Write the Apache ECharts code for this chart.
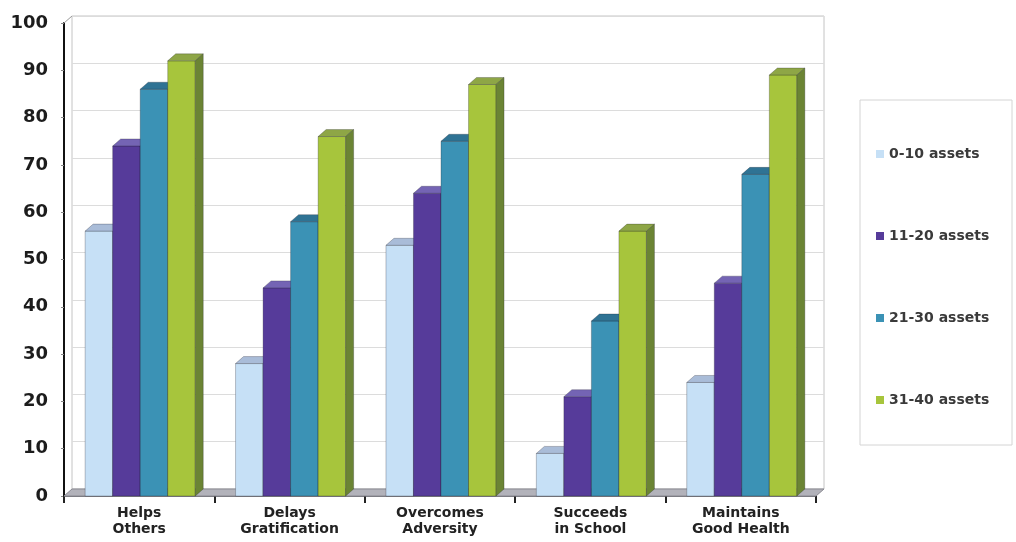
<!DOCTYPE html>
<html>
<head>
    <meta charset="utf-8">
    <title>Assets chart</title>
    <script src="https://cdn.jsdelivr.net/npm/echarts@6/dist/echarts.min.js"></script>
    <style>
        html, body { margin: 0; padding: 0; background: #fff; }
    </style>
</head>
<body>
    <div id="main" style="width:1016px;height:542px;"></div>

    <script type="text/javascript">
        var categories = ['Helps\nOthers', 'Delays\nGratification', 'Overcomes\nAdversity', 'Succeeds\nin School', 'Maintains\nGood Health'];
        var seriesNames = ['0-10 assets', '11-20 assets', '21-30 assets', '31-40 assets'];
        var assets0to10 = [56, 28, 53, 9, 24];
        var assets11to20 = [74, 44, 64, 21, 45];
        var assets21to30 = [86, 58, 75, 37, 68];
        var assets31to40 = [92, 76, 87, 56, 89];
        var yTicks = [0, 10, 20, 30, 40, 50, 60, 70, 80, 90, 100];

        // front / top / side colours per series
        var faces = [
            ['#c6e0f6', '#a9bcd8', '#8fa8c4'],
            ['#563b9a', '#7464b4', '#3b2a70'],
            ['#3b92b5', '#2f7394', '#245f7a'],
            ['#a7c53c', '#8ea646', '#6b8434']
        ];
        var depthX = 8, depthY = 7;

        function renderBar(params, api) {
            var cat = api.value(0);
            var val = api.value(1);
            var base = api.coord([cat, 0]);
            var top = api.coord([cat, val]);
            var band = api.size([1, 0])[0];
            var bw = band * 0.183;
            var x0 = base[0] - 2 * bw + params.seriesIndex * bw + 1;
            var ty = top[1], by = base[1];
            var c = faces[params.seriesIndex];
            var edge = 'rgba(30,30,40,0.45)';
            return {
                type: 'group',
                children: [
                    {
                        type: 'rect',
                        shape: { x: x0, y: ty, width: bw, height: by - ty },
                        style: { fill: c[0], stroke: edge, lineWidth: 0.6 }
                    },
                    {
                        type: 'polygon',
                        shape: { points: [[x0, ty], [x0 + depthX, ty - depthY], [x0 + bw + depthX, ty - depthY], [x0 + bw, ty]] },
                        style: { fill: c[1], stroke: edge, lineWidth: 0.6 }
                    },
                    {
                        type: 'polygon',
                        shape: { points: [[x0 + bw, ty], [x0 + bw + depthX, ty - depthY], [x0 + bw + depthX, by - depthY], [x0 + bw, by]] },
                        style: { fill: c[2], stroke: edge, lineWidth: 0.6 }
                    }
                ]
            };
        }

        function toPairs(arr) {
            var out = [];
            for (var i = 0; i < arr.length; i++) {
                out.push([i, arr[i]]);
            }
            return out;
        }

        var allValues = [assets0to10, assets11to20, assets21to30, assets31to40];
        var series = [];
        for (var s = 0; s < seriesNames.length; s++) {
            series.push({
                name: seriesNames[s],
                type: 'custom',
                xAxisIndex: 0,
                yAxisIndex: 0,
                renderItem: renderBar,
                itemStyle: { color: faces[s][0] },
                encode: { x: 0, y: 1 },
                data: toPairs(allValues[s]),
                z: 3
            });
        }

        var myChart = echarts.init(document.getElementById('main'));
        var option = {
            animation: false,
            backgroundColor: '#fff',
            grid: [
                { left: 64, right: 200, top: 23, bottom: 46 },
                { left: 72, right: 192, top: 16, bottom: 53, show: true, borderColor: '#c4c4c4', borderWidth: 1 }
            ],
            legend: {
                orient: 'vertical',
                left: 871,
                top: 142,
                itemGap: 68,
                itemWidth: 8,
                itemHeight: 8,
                icon: 'rect',
                data: seriesNames,
                textStyle: {
                    fontFamily: 'DejaVu Sans',
                    fontWeight: 'bold',
                    fontSize: 14,
                    color: '#3a3a3a'
                }
            },
            xAxis: [
                {
                    type: 'category',
                    gridIndex: 0,
                    data: categories,
                    boundaryGap: true,
                    axisLine: { show: true, lineStyle: { color: '#6e6e74', width: 1 } },
                    axisTick: { show: true, interval: 0, length: 7, lineStyle: { color: '#222', width: 2 } },
                    axisLabel: {
                        interval: 0,
                        margin: 9,
                        fontFamily: 'DejaVu Sans',
                        fontWeight: 'bold',
                        fontSize: 14,
                        lineHeight: 16,
                        color: '#222'
                    }
                },
                {
                    type: 'category',
                    gridIndex: 1,
                    data: categories,
                    show: false
                }
            ],
            yAxis: [
                {
                    type: 'value',
                    gridIndex: 0,
                    min: yTicks[0],
                    max: yTicks[yTicks.length - 1],
                    interval: 10,
                    splitLine: { show: false },
                    axisLine: { show: true, lineStyle: { color: '#111', width: 2 } },
                    axisTick: { show: true, length: 3, lineStyle: { color: '#888' } },
                    axisLabel: {
                        margin: 16,
                        fontFamily: 'DejaVu Sans',
                        fontWeight: 'bold',
                        fontSize: 18,
                        color: '#1c1c1c'
                    }
                },
                {
                    type: 'value',
                    gridIndex: 1,
                    min: yTicks[0],
                    max: yTicks[yTicks.length - 1],
                    interval: 10,
                    axisLine: { show: false },
                    axisTick: { show: false },
                    axisLabel: { show: false },
                    splitLine: { show: true, lineStyle: { color: '#dcdcdc', width: 1 } }
                }
            ],
            series: series
        };
        myChart.setOption(option);

        // floor slab and corner joins, placed from the axis scale
        var first = myChart.convertToPixel({ xAxisIndex: 0, yAxisIndex: 0 }, [0, 0]);
        var last = myChart.convertToPixel({ xAxisIndex: 0, yAxisIndex: 0 }, [categories.length - 1, 0]);
        var topLeft = myChart.convertToPixel({ xAxisIndex: 0, yAxisIndex: 0 }, [0, 100]);
        var band = (last[0] - first[0]) / (categories.length - 1);
        var fl = first[0] - band / 2, fr = last[0] + band / 2, fy = first[1];
        myChart.setOption({
            graphic: [
                {
                    type: 'polygon',
                    z: 1,
                    shape: { points: [[fl, fy], [fr, fy], [fr + depthX, fy - depthY], [fl + depthX, fy - depthY]] },
                    style: { fill: '#b2b2ba', stroke: '#8a8a92', lineWidth: 1 }
                },
                {
                    type: 'line',
                    z: 1,
                    shape: { x1: fl, y1: topLeft[1], x2: fl + depthX, y2: topLeft[1] - depthY },
                    style: { stroke: '#9a9a9a', lineWidth: 1 }
                },
                {
                    type: 'rect',
                    z: 0,
                    shape: { x: 860, y: 100, width: 152, height: 345 },
                    style: { fill: 'none', stroke: '#d4d4d4', lineWidth: 1 }
                }
            ]
        });
    </script>
</body>
</html>
